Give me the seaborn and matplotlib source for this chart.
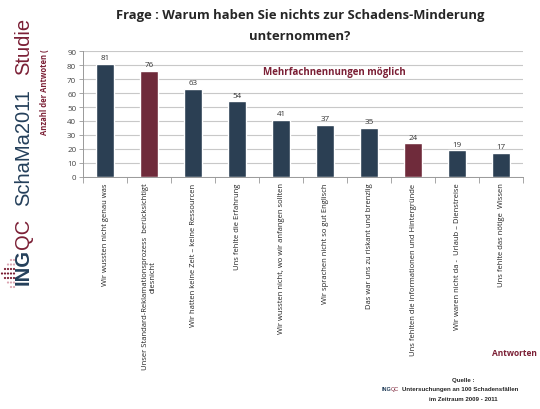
import seaborn as sns
import matplotlib.pyplot as plt
import pandas as pd

# data
antworten = [
    "Wir wussten nicht genau was",
    "Unser Standard-Reklamationsprozess  berücksichtigt\ndiesnicht",
    "Wir hatten keine Zeit – keine Ressourcen",
    "Uns fehlte die Erfahrung",
    "Wir wussten nicht, wo wir anfangen sollten",
    "Wir sprachen nicht so gut Englisch",
    "Das war uns zu riskant und brenzlig",
    "Uns fehlten die Informationen und Hintergründe",
    "Wir waren nicht da -  Urlaub – Dienstreise",
    "Uns fehlte das nötige  Wissen",
]
anzahl = [81, 76, 63, 54, 41, 37, 35, 24, 19, 17]
gruppe = ["a", "b", "a", "a", "a", "a", "a", "b", "a", "a"]

navy = "#243f5a"
weinrot = "#7b1f35"

df = pd.DataFrame({"antwort": antworten, "anzahl": anzahl, "gruppe": gruppe})

sns.set_style("white")
plt.rcParams['font.family'] = ['Open Sans', 'DejaVu Sans']

fig = plt.figure(figsize=(5.4, 4.1), dpi=100)
ax = fig.add_axes([0.154, 0.566, 0.815, 0.307])

sns.barplot(data=df, x="antwort", y="anzahl", hue="gruppe",
            palette={"a": navy, "b": weinrot}, width=0.4, dodge=False,
            legend=False, ax=ax)

for c in ax.containers:
    ax.bar_label(c, fmt="%d", fontsize=5.8, color="#333333", padding=2)

ax.set_ylim(0, 90)
ax.set_yticks(range(0, 91, 10))
ax.set_xlim(-0.5, len(antworten) - 0.5)
ax.yaxis.grid(True, color="#c8c8c8", linewidth=0.8)
ax.set_axisbelow(True)
ax.set_xlabel("")
ax.set_ylabel("")
ax.tick_params(axis="y", labelsize=5.8, labelcolor="#444444", length=3,
               color="#999999", left=True, width=0.6, pad=2)
ax.tick_params(axis="x", length=0, pad=4)
ax.set_xticks(range(len(antworten)))
ax.set_xticklabels(antworten, rotation=90, fontsize=5.5, color="#222222",
                   multialignment="center")
ax.set_xticks([i + 0.5 for i in range(-1, len(antworten))], minor=True)
ax.tick_params(axis="x", which="minor", length=4, color="#999999", width=0.6,
               bottom=True)
for s in ["top", "right"]:
    ax.spines[s].set_visible(False)
for s in ["left", "bottom"]:
    ax.spines[s].set_color("#999999")
    ax.spines[s].set_linewidth(0.7)

# titles and notes
fig.text(0.555, 0.963, "Frage : Warum haben Sie nichts zur Schadens-Minderung",
         ha="center", va="center", fontsize=9.4, fontweight="bold")
fig.text(0.555, 0.91, "unternommen?", ha="center", va="center",
         fontsize=9.4, fontweight="bold")
fig.text(0.083, 0.775, "Anzahl der Antwoten (", rotation=90, ha="center",
         va="center", fontsize=5.5, fontweight="bold", color=weinrot)
fig.text(0.62, 0.823, "Mehrfachnennungen möglich", ha="center", va="center",
         fontsize=7, fontweight="bold", color=weinrot)
fig.text(0.952, 0.139, "Antworten", ha="center", va="center",
         fontsize=6, fontweight="bold", color=weinrot)
fig.text(0.858, 0.071, "Quelle :", ha="center", va="center",
         fontsize=4.4, fontweight="bold", family="Liberation Sans")
fig.text(0.744, 0.049, "Untersuchungen an 100 Schadensfällen", ha="left",
         va="center", fontsize=4.4, fontweight="bold", family="Liberation Sans")
fig.text(0.858, 0.025, "im Zeitraum 2009 - 2011", ha="center", va="center",
         fontsize=4.4, fontweight="bold", family="Liberation Sans")
fig.text(0.706, 0.049, "ING", ha="left", va="center", fontsize=4,
         fontweight="bold", color=navy, family="Liberation Sans")
fig.text(0.724, 0.049, "QC", ha="left", va="center", fontsize=4,
         color=weinrot, family="Liberation Sans")

# vertical study logo on the left (centres in pixels from the top)
logo = [("ING", 267, navy, "bold"), ("QC", 234, weinrot, "normal"),
        ("SchaMa2011", 148, navy, "normal"), ("Studie", 46, weinrot, "normal")]
for txt, ypx, col, fw in logo:
    fig.text(0.043, 1 - ypx / 410, txt, rotation=90, ha="center", va="center",
             fontsize=14.5, color=col, fontweight=fw, family="Liberation Sans")

# little dot pattern of the logo, left of "ING"
dots = fig.add_axes([0.0, 1 - 296 / 410, 30 / 540, 40 / 410])
dots.set_xlim(0, 30)
dots.set_ylim(40, 0)
dots.axis("off")
dot_x, dot_y, dot_c = [], [], []
for i in range(5):
    for j in range(7):
        if abs(j - 3) <= i:
            dot_x.append(2 + i * 3)
            dot_y.append(5 + j * 4.5)
            dot_c.append(weinrot if abs(j - 3) <= 1 else "#dba6b2")
dots.scatter(dot_x, dot_y, s=2.5, c=dot_c, linewidths=0)

fig.savefig("out.png", dpi=100, facecolor="white")
